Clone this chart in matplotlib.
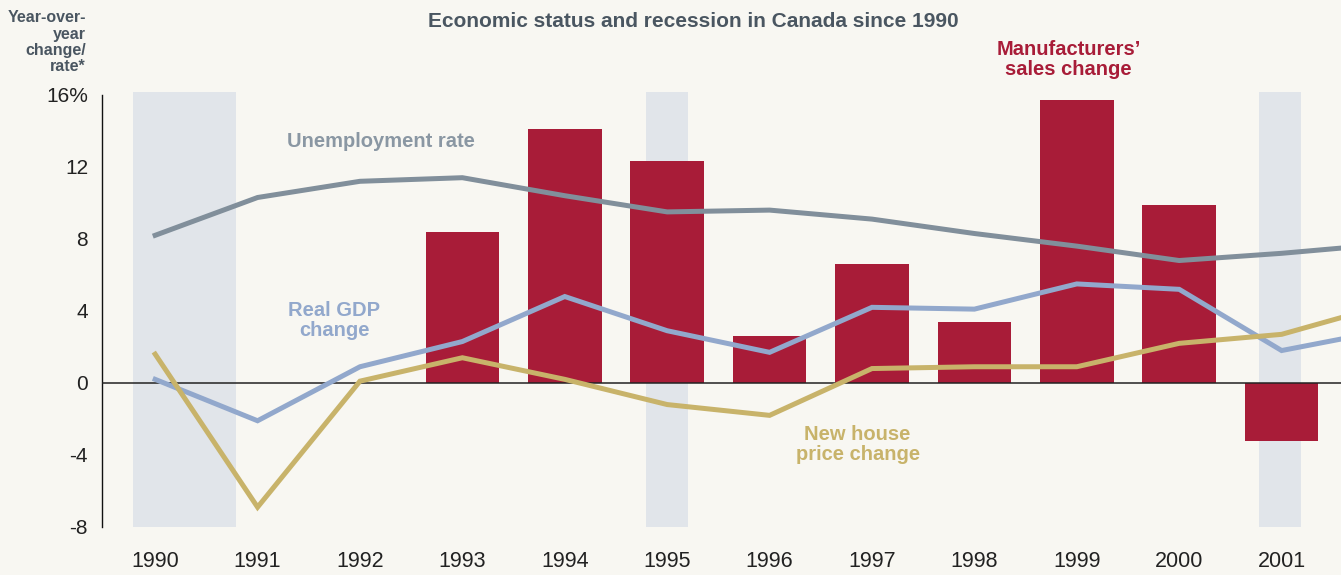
import numpy as np
from matplotlib import pyplot as plt

plt.rcParams['font.family'] = ['Liberation Sans', 'DejaVu Sans']

# data
years = [1990, 1991, 1992, 1993, 1994, 1995, 1996, 1997, 1998, 1999, 2000, 2001, 2002]
tick_years = years[:-1]
bar_years = [1993, 1994, 1995, 1996, 1997, 1998, 1999, 2000, 2001]
sales = [8.4, 14.1, 12.3, 2.6, 6.6, 3.4, 15.7, 9.9, -3.2]
unemployment = [8.2, 10.3, 11.2, 11.4, 10.4, 9.5, 9.6, 9.1, 8.3, 7.6, 6.8, 7.2, 7.7]
gdp = [0.2, -2.1, 0.9, 2.3, 4.8, 2.9, 1.7, 4.2, 4.1, 5.5, 5.2, 1.8, 2.9]
house = [1.6, -6.9, 0.1, 1.4, 0.2, -1.2, -1.8, 0.8, 0.9, 0.9, 2.2, 2.7, 4.3]
recessions = [(1989.78, 1990.79), (1994.79, 1995.2), (2000.78, 2001.19)]
yticks = [-8, -4, 0, 4, 8, 12, 16]
ytick_labels = ['-8', '-4', '0', '4', '8', '12', '16%']

bg = '#f8f7f2'
red = '#a81c38'
grey = '#818f9b'
blue = '#92a8cc'
gold = '#c8b36a'
shade = '#e1e5ea'
slate = '#4a5661'

fig = plt.figure(figsize=(13.41, 5.75), dpi=100, facecolor=bg)
ax = fig.add_axes([0.076, 0.0835, 0.924, 0.7515])
ax.set_facecolor(bg)

for a, b in recessions:
    ax.axvspan(a, b, ymin=0, ymax=1.007, color=shade, zorder=0, lw=0, clip_on=False)

ax.bar(bar_years, sales, width=0.72, color=red, zorder=2)
ax.axhline(0, color='#222222', lw=1.1, zorder=3)

ax.plot(years, unemployment, color=grey, lw=3.6, zorder=4, solid_joinstyle='miter')
ax.plot(years, gdp, color=blue, lw=3.6, zorder=4, solid_joinstyle='miter')
ax.plot(years, house, color=gold, lw=3.6, zorder=4, solid_joinstyle='miter')

ax.set_xlim(1989.48, 2001.58)
ax.set_ylim(-8, 16)
ax.set_xticks(tick_years)
ax.set_xticklabels([str(y) for y in tick_years], fontsize=15.5, color='#222222')
ax.set_yticks(yticks)
ax.set_yticklabels(ytick_labels, fontsize=15, color='#222222')
ax.tick_params(axis='y', length=0, pad=10)
ax.tick_params(axis='x', length=0, pad=17)
for s in ['top', 'right', 'bottom']:
    ax.spines[s].set_visible(False)
ax.spines['left'].set_color('#111111')
ax.spines['left'].set_linewidth(1.0)

fig.text(0.064, 0.982, 'Year-over-\nyear\nchange/\nrate*', ha='right', va='top',
         fontsize=11.5, fontweight='bold', color=slate, linespacing=1.1)
fig.text(0.517, 0.962, 'Economic status and recession in Canada since 1990', ha='center',
         va='center', fontsize=15, fontweight='bold', color=slate)

ax.text(1992.2, 13.4, 'Unemployment rate', ha='center', va='center',
        fontsize=14.5, fontweight='bold', color='#8a97a3')
ax.text(1991.75, 3.45, 'Real GDP\nchange', ha='center', va='center',
        fontsize=14.5, fontweight='bold', color=blue, linespacing=1.05)
ax.text(1996.86, -3.4, 'New house\nprice change', ha='center', va='center',
        fontsize=14.5, fontweight='bold', color=gold, linespacing=1.05)
ax.text(1998.92, 17.95, 'Manufacturers\u2019\nsales change', ha='center', va='center',
        fontsize=14.5, fontweight='bold', color=red, linespacing=1.05)

fig.savefig('out.png', dpi=100, facecolor=bg)
